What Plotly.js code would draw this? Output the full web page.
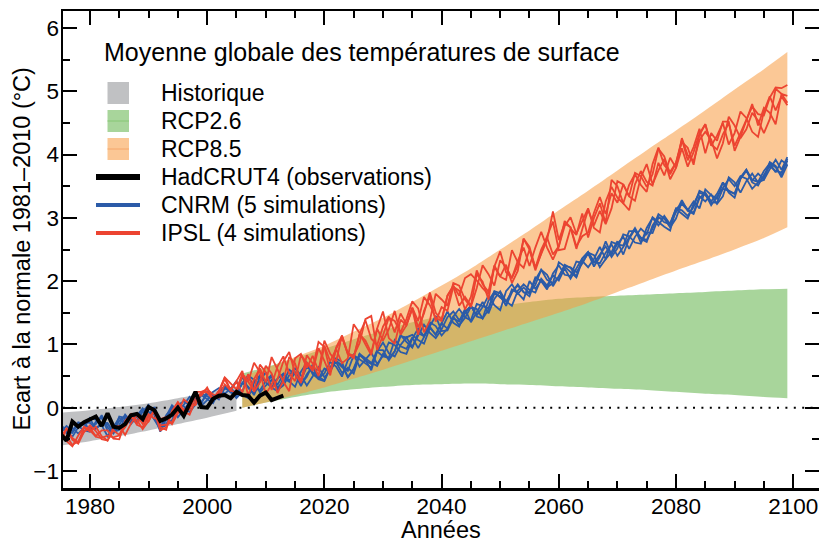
<!DOCTYPE html>
<html><head><meta charset="utf-8">
<script src="https://cdn.plot.ly/plotly-3.0.1.min.js"></script>
<style>html,body{margin:0;padding:0;background:#fff;}#chart{width:819px;height:542px;}</style>
</head><body><div id="chart"></div>
<script>
// ---------- DATA ----------
const modelStart = 1975, modelEnd = 2099;
const modelYears = Array.from({length: modelEnd - modelStart + 1}, (_, i) => modelStart + i);
const obsYears = Array.from({length: 2013 - 1975 + 1}, (_, i) => 1975 + i);

const hadcrut4 = [-0.42,-0.52,-0.22,-0.30,-0.23,-0.19,-0.14,-0.29,-0.09,-0.30,
  -0.32,-0.26,-0.12,-0.10,-0.18,0.01,-0.04,-0.21,-0.17,-0.11,
  0.00,-0.13,0.07,0.25,0.01,0.00,0.14,0.19,0.20,0.15,
  0.25,0.20,0.19,0.08,0.19,0.24,0.12,0.16,0.19];

const histYears = [1975,1980,1985,1990,1995,2000,2005];
const histUpper = [-0.08,-0.04,0.01,0.07,0.15,0.24,0.34];
const histLower = [-0.60,-0.53,-0.45,-0.36,-0.26,-0.16,-0.05];

const rcpYears = [2006,2010,2015,2020,2025,2030,2035,2040,2045,2050,2055,2060,2065,2070,2075,2080,2085,2090,2095,2099];
const rcp26Upper = [0.54,0.64,0.78,0.93,1.08,1.22,1.35,1.45,1.54,1.61,1.67,1.72,1.75,1.77,1.79,1.81,1.83,1.85,1.87,1.88];
const rcp26Lower = [0.00,0.08,0.17,0.24,0.29,0.33,0.36,0.37,0.38,0.37,0.36,0.34,0.32,0.30,0.28,0.25,0.22,0.20,0.17,0.15];
const rcp85Upper = [0.50,0.62,0.80,0.98,1.20,1.42,1.67,1.93,2.20,2.50,2.80,3.12,3.43,3.75,4.07,4.38,4.70,5.03,5.35,5.62];
const rcp85Lower = [0.00,0.08,0.20,0.32,0.46,0.60,0.75,0.90,1.05,1.20,1.35,1.50,1.66,1.83,2.00,2.17,2.33,2.50,2.68,2.85];

const cnrm1 = [-0.30,-0.39,-0.24,-0.29,-0.36,-0.38,-0.22,-0.16,-0.36,-0.38,
  -0.14,-0.16,-0.20,-0.23,-0.06,0.04,-0.12,-0.38,-0.19,0.00,
  -0.08,0.05,0.17,0.09,0.03,0.12,0.25,0.31,0.22,0.30,
  0.42,0.21,0.15,0.40,0.51,0.40,0.32,0.46,0.54,0.42,
  0.33,0.57,0.71,0.53,0.46,0.54,0.72,0.65,0.49,0.75,
  0.84,0.65,0.76,0.87,0.69,0.82,1.03,0.99,0.88,0.85,
  1.09,1.25,1.13,1.28,1.15,1.33,1.52,1.34,1.28,1.52,
  1.60,1.46,1.59,1.77,1.62,1.54,1.84,1.95,1.80,1.90,
  1.81,2.06,2.00,1.87,2.12,2.25,2.10,2.08,2.31,2.29,
  2.44,2.23,2.38,2.63,2.42,2.59,2.70,2.51,2.70,2.83,
  2.74,3.01,2.93,2.86,2.80,3.14,3.22,3.12,3.26,3.15,
  3.45,3.36,3.30,3.56,3.42,3.38,3.62,3.76,3.60,3.57,
  3.74,3.86,3.72,3.91,3.84];
const cnrm2 = [-0.38,-0.29,-0.37,-0.23,-0.26,-0.33,-0.26,-0.12,-0.31,-0.41,
  -0.27,-0.11,-0.22,-0.13,-0.01,-0.15,-0.06,-0.32,-0.12,-0.01,
  -0.15,-0.04,0.08,0.21,0.09,0.21,0.19,0.13,0.32,0.31,
  0.22,0.49,0.31,0.22,0.50,0.41,0.49,0.32,0.40,0.60,
  0.53,0.34,0.53,0.65,0.46,0.62,0.57,0.78,0.72,0.48,
  0.62,0.85,0.74,0.69,0.91,0.91,0.75,0.89,1.15,1.04,
  0.95,1.18,1.13,1.35,1.29,1.14,1.25,1.44,1.56,1.43,
  1.38,1.64,1.61,1.57,1.84,1.81,1.61,1.82,1.95,1.82,
  1.81,1.94,2.18,2.10,1.92,2.07,2.24,2.22,2.14,2.28,
  2.45,2.41,2.22,2.35,2.62,2.58,2.56,2.79,2.79,2.69,
  2.65,2.83,3.06,2.99,2.91,3.15,3.12,3.03,3.17,3.43,
  3.38,3.20,3.34,3.48,3.61,3.50,3.66,3.62,3.46,3.56,
  3.60,3.77,3.92,3.76,3.96];
const cnrm3 = [-0.27,-0.40,-0.46,-0.31,-0.23,-0.24,-0.33,-0.26,-0.26,-0.39,
  -0.35,-0.16,-0.18,-0.21,-0.03,-0.06,-0.19,-0.34,-0.14,0.04,
  -0.05,-0.08,0.07,0.05,0.20,0.14,0.07,0.25,0.34,0.24,
  0.20,0.39,0.33,0.20,0.42,0.56,0.32,0.26,0.47,0.41,
  0.56,0.37,0.49,0.68,0.49,0.43,0.64,0.72,0.55,0.63,
  0.54,0.83,0.76,0.59,0.89,0.81,0.79,1.07,0.97,0.93,
  1.11,0.94,1.12,1.29,1.45,1.21,1.22,1.41,1.36,1.56,
  1.35,1.52,1.67,1.49,1.72,1.84,1.68,1.61,1.85,1.95,
  1.86,1.82,2.04,1.93,2.09,2.01,2.20,2.04,2.19,2.36,
  2.46,2.31,2.28,2.45,2.58,2.40,2.54,2.69,2.84,2.67,
  2.62,2.88,3.02,2.93,2.90,3.14,3.06,2.99,3.22,3.40,
  3.36,3.25,3.24,3.46,3.43,3.38,3.64,3.76,3.56,3.51,
  3.68,3.82,3.74,3.72,3.90];
const cnrm4 = [-0.29,-0.40,-0.32,-0.41,-0.32,-0.16,-0.19,-0.28,-0.45,-0.31,
  -0.16,-0.27,-0.18,-0.10,-0.22,-0.14,0.00,-0.32,-0.28,-0.04,
  0.04,0.02,-0.07,0.05,0.22,0.18,0.12,0.19,0.30,0.27,
  0.15,0.25,0.51,0.44,0.24,0.35,0.44,0.28,0.35,0.51,
  0.62,0.51,0.35,0.49,0.64,0.48,0.58,0.74,0.67,0.48,
  0.60,0.85,0.78,0.71,0.66,0.85,0.77,0.89,1.13,1.11,
  1.15,1.07,1.01,1.26,1.16,1.33,1.25,1.44,1.30,1.42,
  1.59,1.56,1.41,1.55,1.80,1.76,1.62,1.87,1.81,1.71,
  2.00,1.88,2.01,1.90,1.97,2.30,2.23,2.15,2.06,2.32,
  2.22,2.35,2.54,2.35,2.46,2.63,2.42,2.67,2.82,2.61,
  2.77,2.76,3.00,2.99,2.85,2.99,3.25,3.13,3.08,3.34,
  3.26,3.37,3.22,3.34,3.64,3.56,3.40,3.58,3.70,3.56,
  3.64,3.88,3.82,3.64,3.84];
const cnrm5 = [-0.26,-0.38,-0.40,-0.25,-0.27,-0.18,-0.33,-0.25,-0.24,-0.38,
  -0.21,-0.13,-0.26,-0.14,-0.06,-0.12,0.01,-0.28,-0.26,-0.20,
  0.04,0.10,0.04,0.14,0.06,0.26,0.20,0.17,0.34,0.25,
  0.18,0.39,0.51,0.32,0.27,0.42,0.52,0.36,0.53,0.42,
  0.56,0.43,0.65,0.56,0.45,0.42,0.64,0.74,0.64,0.58,
  0.83,0.77,0.70,0.63,0.89,1.03,0.86,0.81,0.99,1.11,
  0.96,1.14,1.31,1.18,1.10,1.24,1.43,1.52,1.38,1.49,
  1.62,1.44,1.41,1.69,1.83,1.74,1.68,1.83,1.93,1.83,
  1.76,2.02,2.18,2.02,1.97,2.06,2.26,2.21,2.07,2.35,
  2.46,2.29,2.42,2.55,2.38,2.52,2.74,2.71,2.61,2.59,
  2.84,3.00,2.88,3.03,2.90,3.08,3.28,3.11,3.06,3.31,
  3.40,3.26,3.38,3.56,3.40,3.32,3.62,3.74,3.59,3.70,
  3.61,3.86,3.80,3.67,3.93];

const ipsl1 = [-0.42,-0.53,-0.61,-0.44,-0.30,-0.36,-0.46,-0.48,-0.44,-0.47,
  -0.44,-0.21,-0.10,-0.27,-0.31,-0.15,-0.07,-0.36,-0.31,-0.07,
  0.08,-0.06,-0.11,0.11,0.24,0.24,0.14,0.25,0.45,0.27,
  0.24,0.50,0.41,0.27,0.68,0.56,0.28,0.45,0.73,0.88,
  0.54,0.39,0.71,0.58,0.94,0.74,0.51,0.95,1.14,0.84,
  0.80,1.16,1.06,0.87,1.25,1.52,1.10,1.01,1.39,1.30,
  1.58,1.27,1.49,1.82,1.50,1.39,1.77,1.91,1.61,1.75,
  1.61,2.11,1.99,1.71,2.23,2.07,2.02,2.49,2.30,2.21,
  2.50,2.17,2.44,2.71,2.94,2.49,2.51,2.83,2.73,3.07,
  2.69,3.00,3.23,2.92,3.60,3.50,3.23,3.12,3.53,3.74,
  3.57,3.51,3.87,3.67,3.95,3.79,4.10,3.81,4.04,4.33,
  4.48,4.16,4.08,4.32,4.50,4.14,4.34,4.56,4.76,4.64,
  4.62,4.90,5.06,5.05,5.10];
const ipsl2 = [-0.47,-0.33,-0.51,-0.57,-0.38,-0.32,-0.45,-0.36,-0.36,-0.49,
  -0.50,-0.23,-0.12,-0.25,-0.14,-0.22,-0.04,-0.31,-0.35,-0.05,
  0.09,-0.03,-0.03,0.19,0.19,0.32,0.14,0.27,0.48,0.28,
  0.42,0.58,0.19,0.45,0.62,0.40,0.80,0.61,0.41,0.26,
  0.78,0.85,0.63,0.82,0.58,1.06,0.85,0.73,1.14,0.86,
  0.78,1.16,1.38,1.09,0.99,1.28,1.44,1.19,1.49,1.32,
  1.58,1.37,1.75,1.62,1.42,1.37,1.77,1.93,1.77,2.05,
  2.11,2.01,1.89,1.79,2.23,2.47,2.14,2.05,2.32,2.53,
  2.24,2.53,2.78,2.53,2.34,2.55,2.87,3.01,2.75,2.95,
  3.15,2.84,2.77,3.26,3.49,3.32,3.23,3.52,3.69,3.52,
  3.41,3.85,4.11,3.83,3.73,3.87,4.20,4.11,3.84,4.31,
  4.48,4.14,4.30,4.50,4.16,4.34,4.68,4.58,4.36,4.28,
  4.68,4.92,4.70,4.92,4.78];
const ipsl3 = [-0.57,-0.33,-0.48,-0.55,-0.31,-0.38,-0.30,-0.45,-0.52,-0.31,
  -0.29,-0.43,-0.25,-0.12,-0.26,-0.10,-0.17,-0.18,-0.15,-0.26,
  -0.09,0.13,0.06,0.04,0.25,0.25,0.12,0.24,0.48,0.38,
  0.29,0.54,0.41,0.71,0.56,0.22,0.36,0.65,0.81,0.54,
  0.42,0.83,0.71,0.62,1.04,0.96,0.57,0.93,1.10,0.86,
  0.82,1.02,1.40,1.45,0.91,1.14,1.42,1.37,1.19,1.40,
  1.68,1.57,1.19,1.38,1.80,1.71,1.61,1.97,1.93,1.71,
  1.59,1.89,2.25,2.11,1.93,2.33,2.22,2.05,2.24,2.67,
  2.54,2.21,2.42,2.65,3.10,2.65,2.91,2.85,2.55,2.71,
  2.77,3.08,3.33,3.06,3.39,3.24,3.53,3.34,3.71,3.66,
  3.49,3.69,4.09,3.97,3.69,3.87,4.24,3.91,4.12,4.41,
  4.02,4.34,4.22,4.52,4.52,4.06,4.28,4.54,4.80,4.46,
  4.74,4.66,4.48,4.96,4.93];
const ipsl4 = [-0.53,-0.45,-0.59,-0.53,-0.38,-0.28,-0.37,-0.50,-0.52,-0.36,
  -0.43,-0.31,-0.16,-0.19,-0.34,-0.21,-0.02,-0.28,-0.27,-0.23,
  -0.04,-0.09,0.02,0.25,0.25,0.29,0.21,0.16,0.37,0.27,
  0.41,0.24,0.53,0.25,0.40,0.66,0.54,0.23,0.43,0.80,
  0.70,0.41,0.83,0.70,0.50,0.98,0.73,0.93,0.70,0.78,
  1.32,1.18,1.00,0.83,1.25,1.06,1.24,1.53,1.15,1.30,
  1.56,1.15,1.53,1.76,1.36,1.59,1.53,1.91,1.85,1.55,
  1.75,2.17,1.95,1.83,2.25,2.07,2.26,1.97,2.16,2.67,
  2.50,2.21,2.50,2.69,2.42,2.55,2.95,2.85,2.51,2.83,
  3.13,2.88,3.11,2.90,3.15,3.58,3.53,3.34,3.27,3.64,
  3.85,3.53,3.75,3.93,3.61,3.79,4.26,3.99,3.90,4.23,
  4.36,4.24,3.94,4.18,4.60,4.46,4.26,4.40,4.66,4.54,
  4.34,4.56,5.04,4.96,4.82];

const cnrmRuns = [cnrm1, cnrm2, cnrm3, cnrm4, cnrm5];
const ipslRuns = [ipsl1, ipsl2, ipsl3, ipsl4];

const legendLabels = ['Historique','RCP2.6','RCP8.5','HadCRUT4 (observations)','CNRM (5 simulations)','IPSL (4 simulations)'];
const chartTitle = 'Moyenne globale des températures de surface';
const xTitle = 'Années';
const yTitle = 'Ecart à la normale 1981–2010 (°C)';

// ---------- STYLE ----------
const FONT = '"Liberation Sans", Arial, Helvetica, sans-serif';
const GRAY = '#c0c1c3';
const GREEN = 'rgb(168,213,155)';
const ORANGE = 'rgba(248,154,63,0.55)';
const ORANGE_SOLID = 'rgb(251,199,149)';
const BLUE = '#2b5ba8';
const RED = '#ec4431';

const W = 819, H = 542;
const M = {l: 63, r: 0, t: 11, b: 54};
const PW = W - M.l - M.r, PH = H - M.t - M.b;
const px2x = p => (p - M.l) / PW;
const px2y = p => (H - M.b - p) / PH;

function band(xs, lo, hi, color) {
  return [
    {x: xs, y: lo, mode: 'lines', line: {width: 0, shape: 'spline', smoothing: 0.8}, hoverinfo: 'skip', showlegend: false},
    {x: xs, y: hi, mode: 'lines', line: {width: 0, shape: 'spline', smoothing: 0.8}, fill: 'tonexty', fillcolor: color, hoverinfo: 'skip', showlegend: false}
  ];
}

const traces = [
  ...band(histYears, histLower, histUpper, GRAY),
  ...band(rcpYears, rcp26Lower, rcp26Upper, GREEN),
  ...band(rcpYears, rcp85Lower, rcp85Upper, ORANGE),
  {x: [1975.4, 2104.4], y: [0, 0], mode: 'lines', line: {color: '#000', width: 2, dash: '2px,6.4px'}, hoverinfo: 'skip', showlegend: false},
  ...cnrmRuns.map(r => ({x: modelYears, y: r, mode: 'lines', line: {color: BLUE, width: 1.8}, hoverinfo: 'skip', showlegend: false})),
  ...ipslRuns.map(r => ({x: modelYears, y: r, mode: 'lines', line: {color: RED, width: 1.8}, hoverinfo: 'skip', showlegend: false})),
  {x: obsYears, y: hadcrut4, mode: 'lines', line: {color: '#000', width: 4}, hoverinfo: 'skip', showlegend: false}
];

// legend (drawn manually)
const legY = [93, 121, 149, 177, 205, 233];
const shapes = [];
const boxColors = [GRAY, GREEN, ORANGE_SOLID];
const boxLines = [null, '#86c774', '#f5a66b'];
for (let i = 0; i < 3; i++) {
  shapes.push({type: 'rect', xref: 'paper', yref: 'paper', x0: px2x(107.5), x1: px2x(129), y0: px2y(legY[i] + 11), y1: px2y(legY[i] - 11), fillcolor: boxColors[i], line: {width: 0}});
  if (boxLines[i]) shapes.push({type: 'line', xref: 'paper', yref: 'paper', x0: px2x(107.5), x1: px2x(129), y0: px2y(legY[i]), y1: px2y(legY[i]), line: {color: boxLines[i], width: 1}});
}
const legLines = [['#000', 6], [BLUE, 4], [RED, 4]];
for (let i = 0; i < 3; i++) {
  shapes.push({type: 'line', xref: 'paper', yref: 'paper', x0: px2x(96), x1: px2x(140), y0: px2y(legY[i + 3]), y1: px2y(legY[i + 3]), line: {color: legLines[i][0], width: legLines[i][1]}});
}

const annotations = [
  {text: chartTitle, xref: 'paper', yref: 'paper', x: px2x(102), y: px2y(52), xanchor: 'left', yanchor: 'middle', showarrow: false, font: {size: 25, color: '#000'}},
  ...legendLabels.map((t, i) => ({text: t, xref: 'paper', yref: 'paper', x: px2x(159), y: px2y(legY[i]), xanchor: 'left', yanchor: 'middle', showarrow: false, font: {size: 23, color: '#000'}})),
  {text: xTitle, xref: 'paper', yref: 'paper', x: 0.5, y: px2y(530), xanchor: 'center', yanchor: 'middle', showarrow: false, font: {size: 23.5, color: '#000'}},
  {text: yTitle, xref: 'paper', yref: 'paper', x: px2x(21), y: 0.5, xanchor: 'center', yanchor: 'middle', textangle: -90, showarrow: false, font: {size: 23.5, color: '#000'}}
];

const axisCommon = {
  showgrid: false, zeroline: false, showline: true, linecolor: '#000', linewidth: 2.5, mirror: 'ticks',
  ticks: 'inside', ticklen: 14, tickwidth: 2, tickcolor: '#000',
  tickfont: {size: 22.5, color: '#000'}
};

const layout = {
  width: W, height: H, margin: M,
  paper_bgcolor: '#fff', plot_bgcolor: '#fff',
  font: {family: FONT, color: '#000'},
  showlegend: false,
  xaxis: Object.assign({}, axisCommon, {range: [1975.4, 2104.4], dtick: 20, tick0: 1980, ticklabelstandoff: -4,
    minor: {dtick: 5, ticks: 'inside', ticklen: 7, tickwidth: 2, tickcolor: '#000', showgrid: false}}),
  yaxis: Object.assign({}, axisCommon, {range: [-1.27, 6.27], dtick: 1, tick0: 0, ticklabelstandoff: -3,
    minor: {dtick: 0.5, ticks: 'inside', ticklen: 7, tickwidth: 2, tickcolor: '#000', showgrid: false}}),
  shapes: shapes,
  annotations: annotations
};

Plotly.newPlot('chart', traces, layout, {displayModeBar: false, staticPlot: true});
</script>
</body></html>
